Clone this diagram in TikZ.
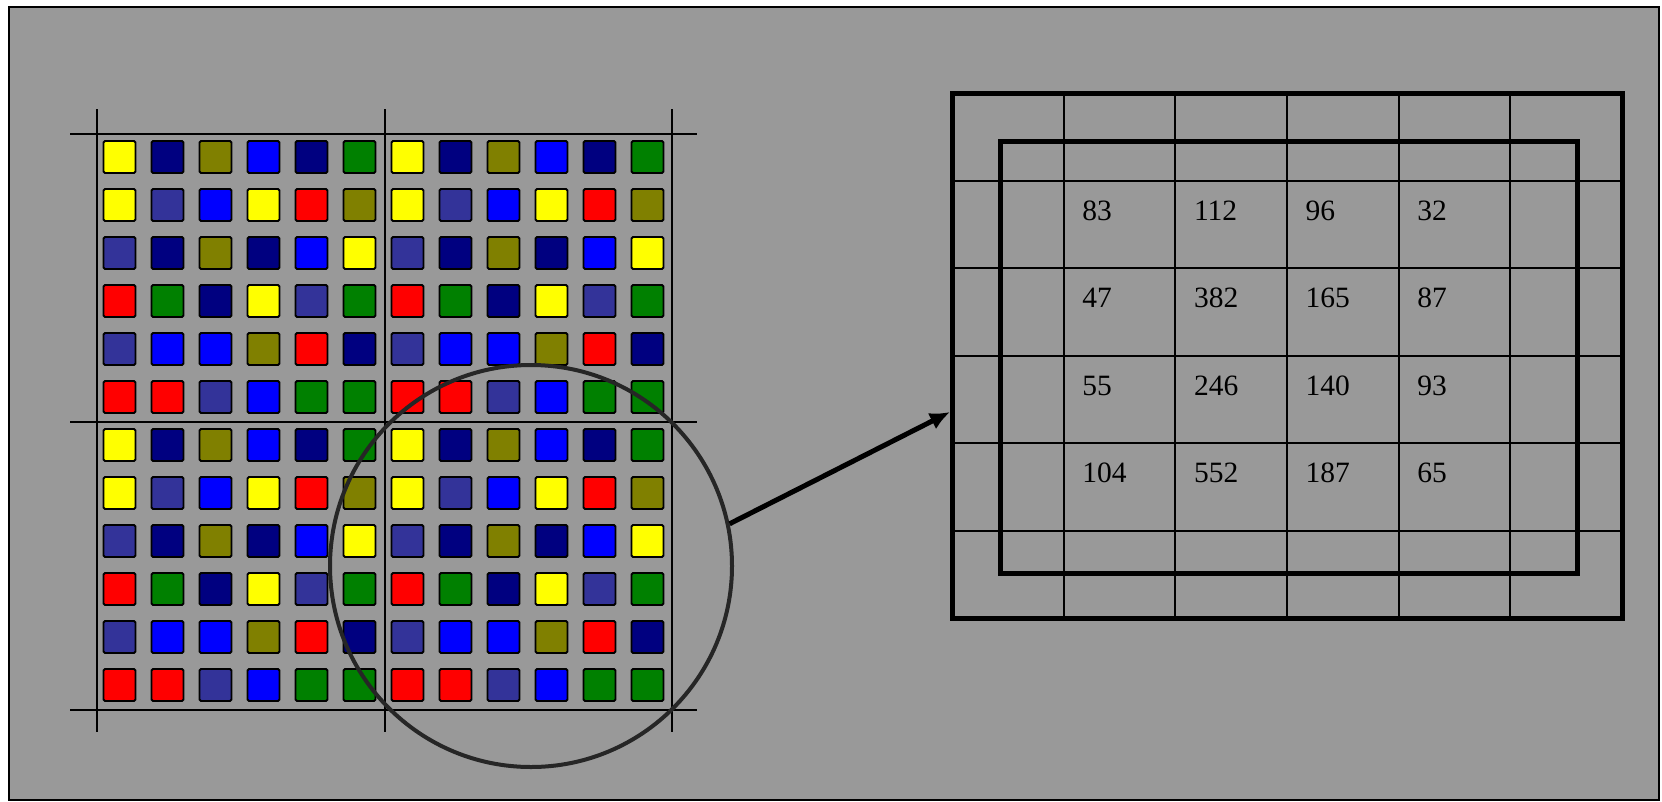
\documentclass[tikz,border=0pt]{standalone}
\usepackage{fontspec}
\setmainfont{Liberation Serif}
\usetikzlibrary{arrows.meta}
\definecolor{bg}{HTML}{999999}
\definecolor{cY}{HTML}{FFFF00}
\definecolor{cN}{HTML}{000080}
\definecolor{cO}{HTML}{808000}
\definecolor{cB}{HTML}{0000FF}
\definecolor{cR}{HTML}{FF0000}
\definecolor{cG}{HTML}{008000}
\definecolor{cS}{HTML}{333399}
\begin{document}
\begin{tikzpicture}[x=1pt,y=-1pt,
  sq/.style={draw=black, line width=1.8pt, rounded corners=1.5pt},
  gridline/.style={line width=1.6pt},
  thinline/.style={line width=2pt},
  thickline/.style={line width=5pt},
  num/.style={anchor=base west, inner sep=0pt, font=\fontsize{29.5}{32}\selectfont},
  lensstyle/.style={circle, draw=black!85, line width=4pt, minimum size=402pt, inner sep=0pt},
  arr/.style={line width=5pt, -{Latex[length=20pt,width=18pt]}}]
\useasboundingbox (0,0) rectangle (1662,801);
\fill[white] (0,0) rectangle (1662,801);
\draw[fill=bg, line width=1.5pt] (9,7) rectangle (1659,800);
% coloured squares
\foreach \qi in {0,1} {
  \foreach \qj in {0,1} {
    \foreach \row [count=\j from 0] in {{Y,N,O,B,N,G},{Y,S,B,Y,R,O},{S,N,O,N,B,Y},{R,G,N,Y,S,G},{S,B,B,O,R,N},{R,R,S,B,G,G}} {
      \foreach \c [count=\i from 0] in \row {
        \draw[sq, fill=c\c] ({103.5+48*(\i+6*\qi)},{141+48*(\j+6*\qj)}) rectangle ++(32,32);
      }
    }
  }
}
% grid lines
\foreach \x in {97,385,672} { \draw[gridline] (\x,109) -- (\x,732); }
\foreach \y in {134,422,710} { \draw[gridline] (70,\y) -- (697,\y); }
% magnifying circle
\node[lensstyle] (lens) at (531,566) {};
% table
\foreach \k in {1,...,5} {
  \draw[thinline] ({952+111.667*\k},93) -- ({952+111.667*\k},618);
  \draw[thinline] (952,{93+87.5*\k}) -- (1622,{93+87.5*\k});
}
\draw[thickline] (952,93) rectangle (1622,618);
\draw[thickline] (1000,141) rectangle (1577,573);
\foreach \a/\b/\c/\d [count=\r from 1] in {83/112/96/32,47/382/165/87,55/246/140/93,104/552/187/65} {
  \node[num] (n\r-1) at ({952+111.667*1+18.5},{93+87.5*\r+39.5}) {\a};
  \node[num] (n\r-2) at ({952+111.667*2+18.5},{93+87.5*\r+39.5}) {\b};
  \node[num] (n\r-3) at ({952+111.667*3+18.5},{93+87.5*\r+39.5}) {\c};
  \node[num] (n\r-4) at ({952+111.667*4+18.5},{93+87.5*\r+39.5}) {\d};
}
% arrow
\coordinate (tip) at (950,412);
\draw[arr] (lens.12) -- (tip);
\end{tikzpicture}
\end{document}
